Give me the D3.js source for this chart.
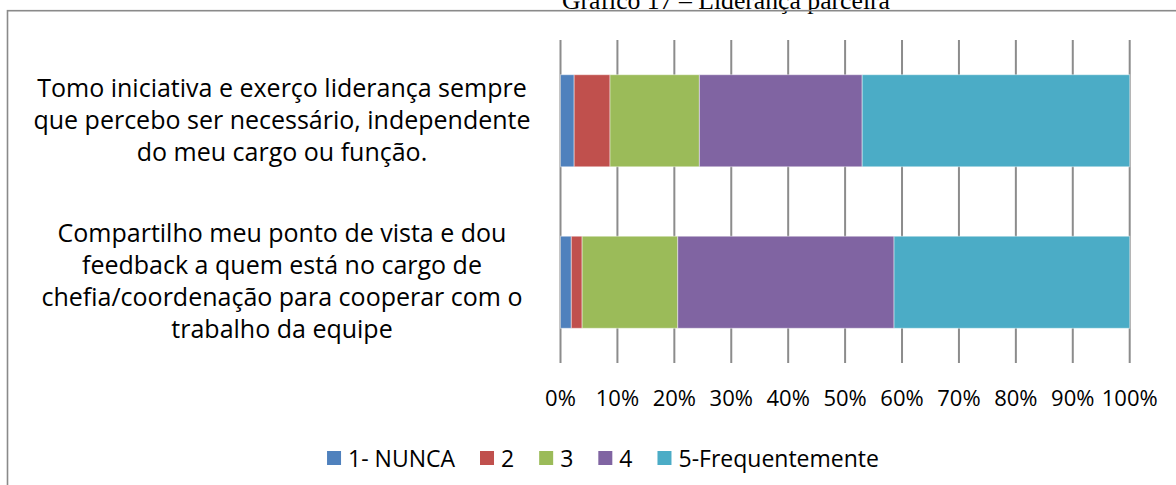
<!DOCTYPE html>
<html>
<head>
<meta charset="utf-8">
<script src="https://cdn.jsdelivr.net/npm/d3@7"></script>
<style>
  body { margin: 0; background: #fff; }
  text { font-family: "Open Sans", sans-serif; fill: #000; }
</style>
</head>
<body>
<script>
// chart data
const categories = [
    ["Tomo iniciativa e exerço liderança sempre", "que percebo ser necessário, independente", "do meu cargo ou função."],
    ["Compartilho meu ponto de vista e dou", "feedback a quem está no cargo de", "chefia/coordenação para cooperar com o", "trabalho da equipe"]
];
const seriesNames = ["1- NUNCA", "2", "3", "4", "5-Frequentemente"];
const seriesColors = ["#4F81BD", "#C0504D", "#9BBB59", "#8064A2", "#4BACC6"];
// percent per category, in series order
const values = [
    [2.4, 6.3, 15.7, 28.6, 47.0],
    [1.9, 1.9, 16.8, 38.0, 41.4]
];
const xTicks = [0, 10, 20, 30, 40, 50, 60, 70, 80, 90, 100];
const title = "Gráfico 17 – Liderança parceira";

const width = 1176;
const height = 485;
const svg = d3.select("body").append("svg")
    .attr("width", width)
    .attr("height", height);

// title sits above the chart frame, mostly cut off
svg.append("text")
    .attr("x", 726)
    .attr("y", 9)
    .attr("text-anchor", "middle")
    .style("font-family", "'Liberation Serif', 'Times New Roman', serif")
    .style("font-size", "25.7px")
    .text(title);

// chart frame
svg.append("rect")
    .attr("x", 7.5).attr("y", 10.7)
    .attr("width", 1300).attr("height", 600)
    .attr("fill", "none")
    .attr("stroke", "#8a8a8a")
    .attr("stroke-width", 1.6);

const x = d3.scaleLinear().domain([0, 100]).range([560.5, 1129.7]);
const y = d3.scaleBand()
    .domain(d3.range(categories.length))
    .range([40, 363])
    .paddingInner(0.43)
    .paddingOuter(0.215);

// vertical gridlines
svg.append("g")
    .selectAll("line")
    .data(xTicks)
    .join("line")
    .attr("x1", d => x(d)).attr("x2", d => x(d))
    .attr("y1", 40).attr("y2", 363)
    .attr("stroke", "#8c8c8c")
    .attr("stroke-width", 2);

// stacked bars
const stackData = values.map((v, i) => {
    const row = { idx: i };
    seriesNames.forEach((s, j) => row[s] = v[j]);
    return row;
});
const stacked = d3.stack().keys(seriesNames)(stackData);

svg.append("g")
    .selectAll("g")
    .data(stacked)
    .join("g")
    .attr("fill", (d, i) => seriesColors[i])
    .selectAll("rect")
    .data(d => d)
    .join("rect")
    .attr("x", d => x(d[0]))
    .attr("width", d => x(d[1]) - x(d[0]))
    .attr("y", d => y(d.data.idx))
    .attr("height", y.bandwidth())
    .attr("stroke", "#fff")
    .attr("stroke-opacity", 0.45)
    .attr("stroke-width", 1);

// x tick labels
svg.append("g")
    .selectAll("text")
    .data(xTicks)
    .join("text")
    .attr("x", d => x(d))
    .attr("y", 406)
    .attr("text-anchor", "middle")
    .style("font-size", "22px")
    .text(d => d + "%");

// category labels, centred beside each bar
const lineH = 32;
categories.forEach((lines, i) => {
    const cy = y(i) + y.bandwidth() / 2;
    const t = svg.append("text")
        .attr("text-anchor", "middle")
        .style("font-size", "25px");
    lines.forEach((ln, k) => {
        t.append("tspan")
            .attr("x", 282)
            .attr("y", cy + (k - (lines.length - 1) / 2) * lineH + 8)
            .text(ln);
    });
});

// legend
const legend = svg.append("g");
let lx = 0;
seriesNames.forEach((s, i) => {
    const g = legend.append("g").attr("transform", `translate(${lx},0)`);
    g.append("rect")
        .attr("x", 0).attr("y", 451)
        .attr("width", 14).attr("height", 14)
        .attr("fill", seriesColors[i]);
    const tx = g.append("text")
        .attr("x", 21).attr("y", 467)
        .style("font-size", "23px")
        .text(s);
    lx += 21 + tx.node().getComputedTextLength() + 25;
});
const legendW = lx - 25;
legend.attr("transform", `translate(${603 - legendW / 2},0)`);
</script>
</body>
</html>
